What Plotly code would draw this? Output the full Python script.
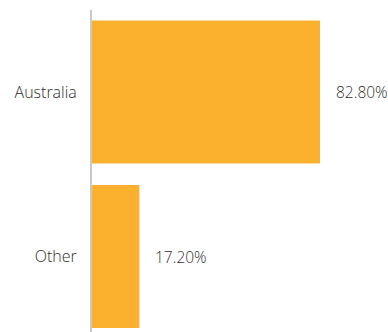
import plotly.graph_objects as go

categories = ["Australia", "Other"]
values = [82.80, 17.20]
value_labels = ["82.80%", "17.20%"]

bar_color = "#FBB12E"
text_color = "#2e2e2e"
font_family = "'Open Sans', Lato, sans-serif"

fig = go.Figure()
fig.add_trace(go.Bar(
    x=values,
    y=categories,
    orientation="h",
    width=0.87,
    marker=dict(color=bar_color, line=dict(width=0)),
    hoverinfo="skip",
))

for v, c, t in zip(values, categories, value_labels):
    fig.add_annotation(
        x=v, y=c, text=t, showarrow=False,
        xanchor="left", yanchor="middle", xshift=14,
        font=dict(family=font_family, size=15.5, color=text_color, weight=300),
    )

fig.update_layout(
    width=388, height=332,
    margin=dict(l=92, r=0, t=10, b=0, pad=0),
    paper_bgcolor="white", plot_bgcolor="white",
    showlegend=False,
    font=dict(family=font_family, size=15.5, color=text_color, weight=300),
    xaxis=dict(range=[0, 107.5], visible=False, showgrid=False, zeroline=False, fixedrange=True),
    yaxis=dict(
        type="category",
        categoryorder="array", categoryarray=categories,
        range=[1.459, -0.4985],
        showline=True, linecolor="#c8c8c8", linewidth=2,
        showgrid=False, zeroline=False,
        ticks="outside", ticklen=10, tickcolor="rgba(0,0,0,0)",
        tickfont=dict(family=font_family, size=16, color=text_color, weight=300),
        fixedrange=True,
    ),
)

fig.write_html(
    "out.html",
    config={"displayModeBar": False},
    post_script="document.body.style.margin='0';document.body.style.overflow='hidden';",
)
